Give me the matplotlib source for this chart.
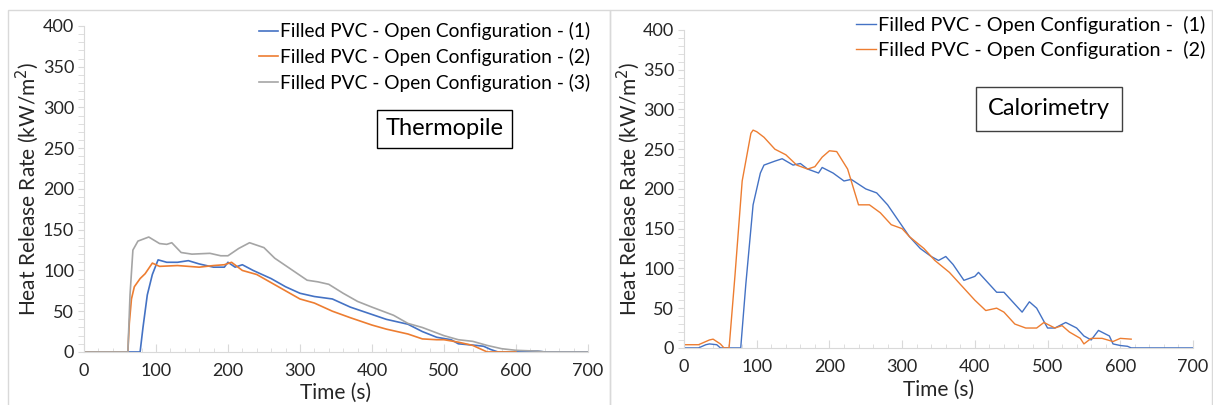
import matplotlib.pyplot as plt
from matplotlib.ticker import MultipleLocator
from matplotlib.patches import Rectangle

plt.rcParams['font.family'] = ['Lato', 'DejaVu Sans']

# Thermopile panel
t_thermo_1 = [0, 60, 78, 82, 88, 95, 103, 115, 130, 145, 160, 180, 195, 200, 210, 220, 235, 260, 280,
              300, 320, 345, 370, 400, 420, 450, 470, 490, 510, 520, 545, 555, 565, 575, 600, 605, 630, 640, 700]
hrr_thermo_1 = [0, 0, 0, 30, 70, 95, 113, 110, 110, 112, 108, 104, 104, 110, 104, 107, 100, 90, 80,
                72, 68, 65, 55, 46, 40, 34, 25, 18, 15, 10, 8, 7, 3, 0, 0, 1, 1, 0, 0]

t_thermo_2 = [0, 61, 63, 66, 70, 78, 85, 95, 105, 130, 160, 180, 195, 205, 220, 240, 260, 280, 300,
              320, 345, 370, 400, 420, 450, 470, 490, 500, 520, 540, 560, 600]
hrr_thermo_2 = [0, 0, 35, 65, 80, 90, 96, 109, 105, 106, 104, 106, 107, 110, 100, 95, 85, 75, 65,
                60, 50, 42, 33, 28, 22, 16, 15, 15, 12, 8, 0, 0]

t_thermo_3 = [0, 61, 64, 68, 75, 90, 105, 115, 122, 135, 150, 175, 190, 200, 215, 230, 250, 265, 290,
              310, 325, 340, 360, 380, 400, 430, 450, 470, 500, 520, 540, 560, 580, 600, 630, 640, 700]
hrr_thermo_3 = [0, 0, 70, 125, 136, 141, 133, 132, 134, 122, 120, 121, 118, 118, 127, 134, 128, 115, 100,
                88, 86, 83, 72, 62, 55, 45, 35, 30, 20, 15, 13, 8, 4, 2, 1, 0, 0]

# Calorimetry panel
t_calo_1 = [0, 20, 30, 35, 45, 50, 78, 85, 95, 105, 110, 125, 135, 150, 160, 170, 185, 190, 205, 220,
            230, 250, 265, 280, 295, 310, 325, 340, 350, 360, 370, 385, 400, 405, 420, 430, 440, 455,
            465, 475, 485, 500, 510, 525, 540, 550, 560, 570, 585, 590, 600, 610, 615, 700]
hrr_calo_1 = [0, 0, 4, 5, 4, 0, 0, 80, 180, 220, 230, 235, 238, 230, 232, 225, 220, 227, 220, 210,
              212, 200, 195, 180, 160, 140, 125, 115, 110, 115, 105, 85, 90, 95, 80, 70, 70, 55,
              45, 58, 50, 25, 25, 32, 25, 15, 10, 22, 15, 5, 3, 2, 0, 0]

t_calo_2 = [0, 20, 35, 40, 50, 55, 62, 70, 80, 92, 95, 100, 110, 125, 140, 155, 170, 180, 190, 200,
            210, 225, 240, 255, 270, 285, 300, 310, 330, 345, 365, 385, 400, 415, 430, 440, 455, 470,
            485, 495, 510, 520, 530, 545, 550, 560, 575, 590, 600, 615]
hrr_calo_2 = [4, 4, 10, 11, 5, 0, 0, 90, 210, 270, 274, 272, 265, 250, 243, 230, 225, 228, 240, 248,
              247, 225, 180, 180, 170, 155, 150, 140, 125, 110, 95, 75, 60, 47, 50, 45, 30, 25,
              25, 32, 25, 28, 20, 12, 5, 12, 12, 8, 12, 11]

labels_thermo = ['Filled PVC - Open Configuration - (1)',
                 'Filled PVC - Open Configuration - (2)',
                 'Filled PVC - Open Configuration - (3)']
labels_calo = ['Filled PVC - Open Configuration -  (1)',
               'Filled PVC - Open Configuration -  (2)']

blue = '#4472C4'
orange = '#ED7D31'
grey = '#A5A5A5'

fig = plt.figure(figsize=(12.13, 4.05), dpi=100)

# panel frames
fig.patches.append(Rectangle((0.007, -0.05), 0.496, 1.025, transform=fig.transFigure,
                             fill=False, edgecolor='#D9D9D9', linewidth=1))
fig.patches.append(Rectangle((0.503, -0.05), 0.496, 1.025, transform=fig.transFigure,
                             fill=False, edgecolor='#D9D9D9', linewidth=1))

ax1 = fig.add_axes([0.0692, 0.131, 0.4155, 0.805])
ax2 = fig.add_axes([0.5639, 0.141, 0.4196, 0.785])


def style_axis(ax, label_y):
    ax.set_xlim(0, 700)
    ax.set_ylim(0, 400)
    ax.xaxis.set_major_locator(MultipleLocator(100))
    ax.xaxis.set_minor_locator(MultipleLocator(20))
    ax.yaxis.set_major_locator(MultipleLocator(50))
    ax.yaxis.set_minor_locator(MultipleLocator(10))
    for s in ['top', 'right']:
        ax.spines[s].set_visible(False)
    for s in ['left', 'bottom']:
        ax.spines[s].set_color('#D9D9D9')
    ax.tick_params(which='both', direction='in', color='#D9D9D9', labelsize=13,
                   labelcolor='#262626')
    ax.tick_params(axis='x', which='major', length=6, pad=8)
    ax.tick_params(axis='x', which='minor', length=3)
    ax.tick_params(axis='y', which='both', direction='out', length=4, pad=3)
    ax.set_xlabel('Time (s)', fontsize=15, color='#262626')
    ax.xaxis.set_label_coords(0.5, label_y)
    ax.set_ylabel('Heat Release Rate (kW/m$^2$)', fontsize=15, labelpad=1, color='#262626')


ax1.plot(t_thermo_1, hrr_thermo_1, color=blue, lw=1.2, label=labels_thermo[0])
ax1.plot(t_thermo_2, hrr_thermo_2, color=orange, lw=1.2, label=labels_thermo[1])
ax1.plot(t_thermo_3, hrr_thermo_3, color=grey, lw=1.2, label=labels_thermo[2])
style_axis(ax1, -0.095)
ax1.legend(loc='upper right', bbox_to_anchor=(1.02, 1.035), frameon=False, fontsize=13.8,
           handlelength=1.0, handletextpad=0.1, labelspacing=0.4, borderaxespad=0)
ax1.text(0.715, 0.684, 'Thermopile', transform=ax1.transAxes, fontsize=17, ha='center', va='center',
         bbox=dict(boxstyle='square,pad=0.35', facecolor='white', edgecolor='black', linewidth=1))

ax2.plot(t_calo_1, hrr_calo_1, color=blue, lw=1.0, label=labels_calo[0])
ax2.plot(t_calo_2, hrr_calo_2, color=orange, lw=1.0, label=labels_calo[1])
style_axis(ax2, -0.10)
ax2.legend(loc='upper right', bbox_to_anchor=(1.04, 1.07), frameon=False, fontsize=14.3,
           handlelength=1.0, handletextpad=0.1, labelspacing=0.35, borderaxespad=0)
ax2.text(0.717, 0.752, 'Calorimetry', transform=ax2.transAxes, fontsize=17, ha='center', va='center',
         bbox=dict(boxstyle='square,pad=0.5', facecolor='white', edgecolor='#404040', linewidth=1))

plt.savefig('out.png', dpi=100)
